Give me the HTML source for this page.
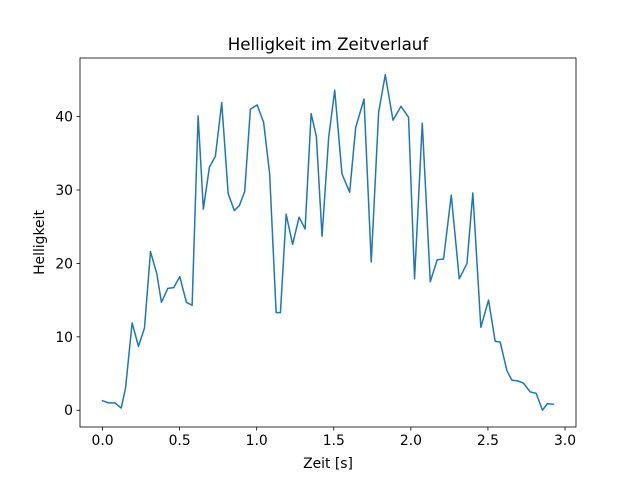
<!DOCTYPE html>
<html><head><meta charset="utf-8"><style>body{margin:0;background:#fff}svg{display:block;font-family:"DejaVu Sans","Liberation Sans",sans-serif}</style></head>
<body>
<svg id="chart" width="640" height="480"></svg>
<script>
const times=[0,0.039,0.080,0.121,0.149,0.192,0.233,0.272,0.311,0.352,0.382,0.423,0.462,0.501,0.544,0.581,0.620,0.654,0.693,0.732,0.773,0.815,0.855,0.888,0.922,0.959,
1.003,1.045,1.084,1.126,1.154,1.191,1.233,1.275,1.314,1.353,1.387,1.424,1.467,1.506,1.553,1.603,1.642,1.696,1.743,1.791,1.834,1.884,1.936,1.985,
2.024,2.074,2.126,2.171,2.212,2.262,2.314,2.364,2.402,2.454,2.504,2.547,2.579,2.623,2.655,2.692,2.730,2.774,2.813,2.854,2.886,2.925];
const brightness=[1.3,1.0,1.0,0.3,3.0,11.9,8.7,11.2,21.6,18.6,14.7,16.6,16.7,18.2,14.7,14.3,40.1,27.4,33.1,34.6,41.9,29.5,27.2,27.9,29.8,41.0,
41.6,39.2,32.2,13.3,13.3,26.7,22.6,26.3,24.7,40.4,37.3,23.7,37.2,43.6,32.2,29.7,38.5,42.4,20.2,40.6,45.7,39.5,41.4,39.9,
17.9,39.1,17.5,20.5,20.6,29.3,17.9,20.0,29.6,11.3,15.0,9.4,9.3,5.4,4.1,4.0,3.7,2.5,2.3,0.0,0.9,0.8];
const xTicks=[0,0.5,1,1.5,2,2.5,3];
const xTickLabels=["0.0","0.5","1.0","1.5","2.0","2.5","3.0"];
const yTicks=[0,10,20,30,40];
const yTickLabels=["0","10","20","30","40"];

const svg=document.getElementById('chart');
const NS='http://www.w3.org/2000/svg';
const L=80,R=576,T=58,B=427;
const tmin=Math.min(...times),tmax=Math.max(...times);
const vmin=Math.min(...brightness),vmax=Math.max(...brightness);
const xm=(tmax-tmin)*0.05,ym=(vmax-vmin)*0.05;
const x0=tmin-xm,x1=tmax+xm,y0=vmin-ym,y1=vmax+ym;
const sx=v=>L+(v-x0)/(x1-x0)*(R-L);
const sy=v=>B-(v-y0)/(y1-y0)*(B-T);
function mk(tag,attrs,txt){const e=document.createElementNS(NS,tag);for(const k in attrs)e.setAttribute(k,attrs[k]);if(txt!==undefined)e.textContent=txt;svg.appendChild(e);return e;}

let d='';
times.forEach((t,i)=>{d+=(i?'L':'M')+sx(t).toFixed(2)+','+sy(brightness[i]).toFixed(2);});
const line=mk('path',{d:d,fill:'none',stroke:'#1f77b4','stroke-width':1.5,'stroke-linejoin':'round','stroke-linecap':'square'});



const frame=mk('rect',{x:L,y:T,width:R-L,height:B-T,fill:'none',stroke:'#000','stroke-width':0.8});



xTicks.forEach((v,i)=>{
  const x=sx(v);
  const tk=mk('line',{x1:x,x2:x,y1:B,y2:B+3.5,stroke:'#000','stroke-width':0.8});
  
  
  const lb=mk('text',{x:x,y:B+18,'text-anchor':'middle','font-size':13.9},xTickLabels[i]);
  
  
});
yTicks.forEach((v,i)=>{
  const y=sy(v);
  const tk=mk('line',{x1:L-3.5,x2:L,y1:y,y2:y,stroke:'#000','stroke-width':0.8});
  
  
  const lb=mk('text',{x:L-7,y:y+5,'text-anchor':'end','font-size':13.9},yTickLabels[i]);
  
  
});
const title=mk('text',{x:(L+R)/2,y:T-8,'text-anchor':'middle','font-size':16.7},'Helligkeit im Zeitverlauf');


const xt=mk('text',{x:(L+R)/2,y:B+41,'text-anchor':'middle','font-size':13.9},'Zeit [s]');


const yt=mk('text',{x:0,y:0,'text-anchor':'middle','font-size':13.9,transform:'translate(44,'+((T+B)/2)+') rotate(-90)'},'Helligkeit');


</script>
</body></html>
